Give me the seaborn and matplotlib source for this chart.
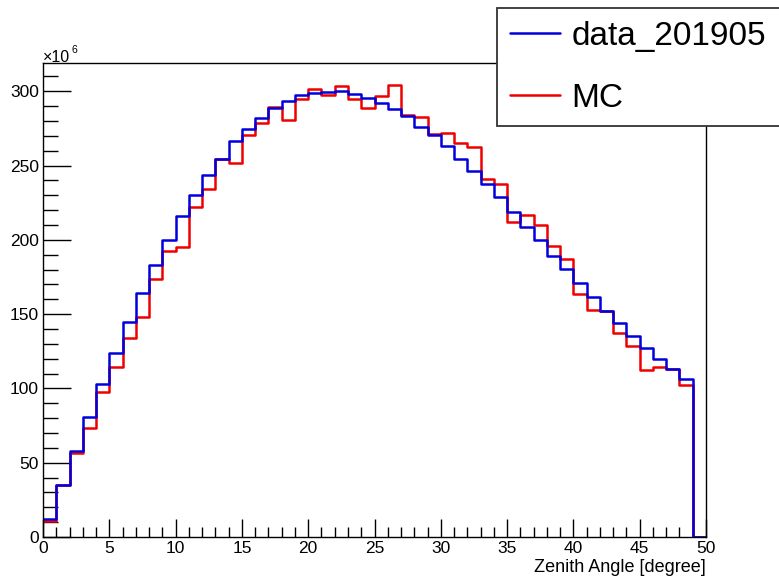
import numpy as np
import pandas as pd
import matplotlib
matplotlib.use("Agg")
import matplotlib.pyplot as plt
from matplotlib.ticker import MultipleLocator
from matplotlib.lines import Line2D
import seaborn as sns

# bin edges (degrees) and contents (x10^6)
bin_edges = list(range(0, 51))
data_201905 = [12, 35, 58, 81, 103, 124, 145, 164.5, 183, 200,
               216, 230, 243.5, 254.7, 266.4, 274.4, 282.1, 289.0, 293.5, 297.5,
               299.1, 299.5, 300, 298, 295.7, 292.3, 288.2, 283.2, 276, 270.4,
               263, 254.7, 246.2, 237.9, 228.5, 218.8, 208.7, 199.8, 189.3, 180.3,
               171.1, 161.7, 152.1, 144, 135.5, 127.5, 119.6, 113.2, 106.3, 0]
mc = [11, 35, 56.3, 73.5, 97.8, 114.6, 134.1, 148.2, 173.5, 192.4,
      195.3, 222.2, 234, 254.3, 252, 270.4, 278.9, 289.5, 280.5, 295.1,
      301.8, 297.7, 303.4, 295.1, 288.8, 296.6, 304, 284.3, 282.7, 271.5,
      272, 265.2, 262.5, 241.2, 237.4, 212.1, 216.4, 210.3, 196, 187,
      163.5, 152.9, 152.3, 137.4, 128.7, 112.3, 114.1, 112.8, 102.2, 0]
series_labels = ["data_201905", "MC"]
x_label = "Zenith Angle [degree]"

sns.set_style("white")
plt.rcParams["font.family"] = ["Liberation Sans", "DejaVu Sans"]
plt.rcParams["text.color"] = "black"
plt.rcParams["axes.labelcolor"] = "black"
plt.rcParams["xtick.color"] = "black"
plt.rcParams["ytick.color"] = "black"

edges = np.array(bin_edges, dtype=float)
centers = (edges[:-1] + edges[1:]) / 2
df_mc = pd.DataFrame({"angle": centers, "count": np.array(mc, dtype=float)})
df_data = pd.DataFrame({"angle": centers, "count": np.array(data_201905, dtype=float)})

fig = plt.figure(figsize=(7.79, 5.84), dpi=100)
ax = fig.add_axes([43 / 779, 1 - 537 / 584, (706 - 43) / 779, (537 - 63) / 584])

bw = float(edges[1] - edges[0])
br = (float(edges[0]), float(edges[-1]))
sns.histplot(data=df_mc, x="angle", weights="count", binwidth=bw, binrange=br,
             element="step", fill=False, color="#ee0000", linewidth=1.8, ax=ax)
sns.histplot(data=df_data, x="angle", weights="count", binwidth=bw, binrange=br,
             element="step", fill=False, color="#0000dd", linewidth=1.8, ax=ax)

ax.set_xlim(0, 50)
ax.set_ylim(0, 319)
ax.xaxis.set_major_locator(MultipleLocator(5))
ax.xaxis.set_minor_locator(MultipleLocator(1))
ax.yaxis.set_major_locator(MultipleLocator(50))
ax.yaxis.set_minor_locator(MultipleLocator(10))
ax.tick_params(axis="both", which="both", direction="in", bottom=True, left=True,
               top=False, right=False, labelsize=12.5, colors="black")
ax.tick_params(axis="x", which="major", length=13, width=1, pad=3)
ax.tick_params(axis="x", which="minor", length=7, width=1)
ax.tick_params(axis="y", which="major", length=20, width=1, pad=3)
ax.tick_params(axis="y", which="minor", length=11, width=1)
for s in ax.spines.values():
    s.set_color("black")
    s.set_linewidth(1.0)
ax.set_ylabel("")
ax.set_xlabel(x_label, fontsize=13, loc="right", labelpad=2)

fig.text(43 / 779, 1 - 62 / 584, "×10", fontsize=11.5, ha="left", va="baseline")
fig.text(71.5 / 779, 1 - 53 / 584, "6", fontsize=7.5, ha="left", va="baseline")

handles = [Line2D([], [], color="#0000dd", lw=1.8), Line2D([], [], color="#ee0000", lw=1.8)]
leg = fig.legend(handles, series_labels, loc="upper left",
                 bbox_to_anchor=(497 / 779, 1 - 8 / 584, 0.5, 0.0), mode="expand",
                 fontsize=24, frameon=True, fancybox=False, borderpad=0.38,
                 handlelength=1.5, handletextpad=0.36, labelspacing=0.93,
                 borderaxespad=0.0)
leg.get_frame().set_edgecolor("#333333")
leg.get_frame().set_linewidth(1.3)
leg.get_frame().set_alpha(1.0)
for t in leg.get_texts():
    t.set_color("black")

fig.savefig("out.png", dpi=100, facecolor="white")
